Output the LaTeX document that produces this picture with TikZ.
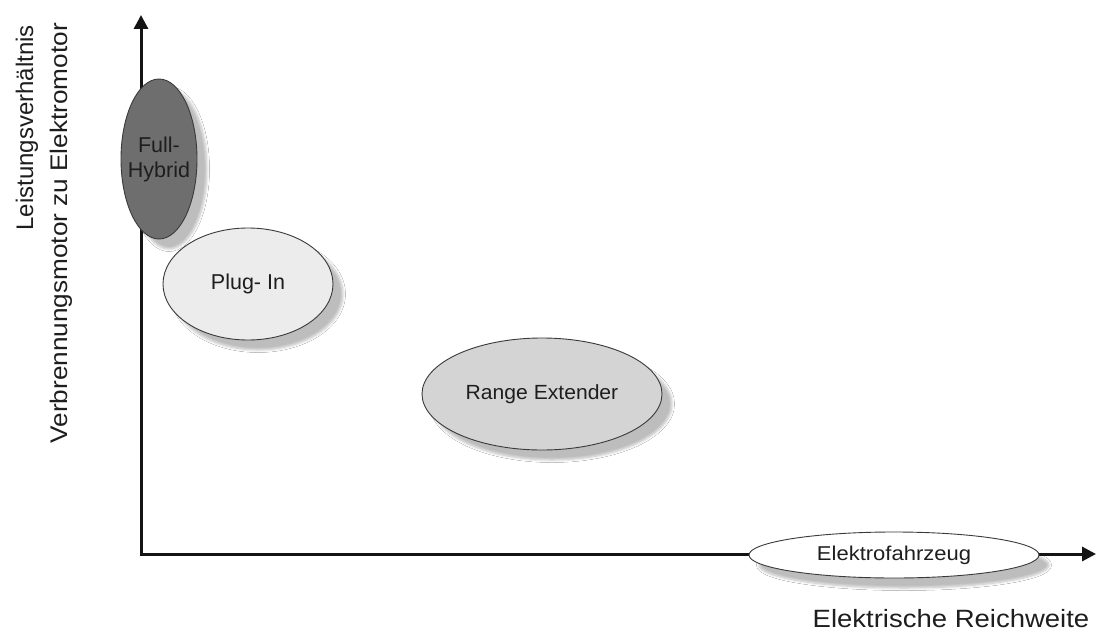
\documentclass[tikz,border=0pt]{standalone}
\usepackage{fontspec}
\setmainfont{Liberation Sans}
\usetikzlibrary{arrows.meta,shapes.geometric,shadows.blur}
\definecolor{txt}{HTML}{1E1E1E}
\definecolor{edge}{HTML}{3A3A3A}
\definecolor{fhfill}{HTML}{6E6E6E}
\definecolor{pifill}{HTML}{ECECEC}
\definecolor{refill}{HTML}{D4D4D4}
\begin{document}
\begin{tikzpicture}[x=1pt,y=-1pt,
  axisline/.style={line width=3pt, draw=black!92, line join=miter,
    {Triangle[length=14pt,width=14pt]}-{Triangle[length=14pt,width=14pt]}},
  blob/.style={ellipse, draw=edge, line width=0.9pt, inner sep=0pt, align=center,
    text=txt,
    blur shadow={shadow xshift=10pt, shadow yshift=-10pt, shadow opacity=26,
      shadow blur radius=2.5pt, shadow blur steps=6}},
  axlabel/.style={text=txt, inner sep=0pt}
]
\useasboundingbox (0,0) rectangle (1097,634);
\fill[white] (0,0) rectangle (1097,634);

\coordinate (o) at (141,554);
\coordinate (ytip) at (141,15);
\coordinate (xtip) at (1096,554);
\draw[axisline] (ytip) -- (o) -- (xtip);

\node[blob, fill=fhfill, minimum width=76pt, minimum height=160pt,
  inner xsep=-14pt, font=\fontsize{21.5}{25}\selectfont] (fh) at (159,159) {Full-\\Hybrid};
\node[blob, fill=pifill, minimum width=170pt, minimum height=112pt,
  font=\fontsize{21.5}{25}\selectfont] (pi) at (248,284) {Plug- In};
\node[blob, fill=refill, minimum width=240pt, minimum height=112pt,
  font=\fontsize{20.5}{24}\selectfont] (re) at (542,394) {\scalebox{1.03}[1]{Range Extender}};
\node[blob, fill=white, minimum width=290pt, minimum height=46pt,
  font=\fontsize{20}{24}\selectfont] (ef) at (894,555) {\scalebox{1.1}[1]{Elektrofahrzeug}};

\node[axlabel, anchor=base, font=\fontsize{25}{30}\selectfont] (xl) at (951,627)
  {\scalebox{1.1}[1]{Elektrische Reichweite}};
\node[axlabel, rotate=90, anchor=base east, font=\fontsize{24}{30}\selectfont] (yl1) at (33,25)
  {Leistungsverhältnis};
\node[axlabel, rotate=90, anchor=base east, font=\fontsize{24}{30}\selectfont] (yl2) at (67,23)
  {\scalebox{1.09}[1]{Verbrennungsmotor zu Elektromotor}};
\end{tikzpicture}
\end{document}
